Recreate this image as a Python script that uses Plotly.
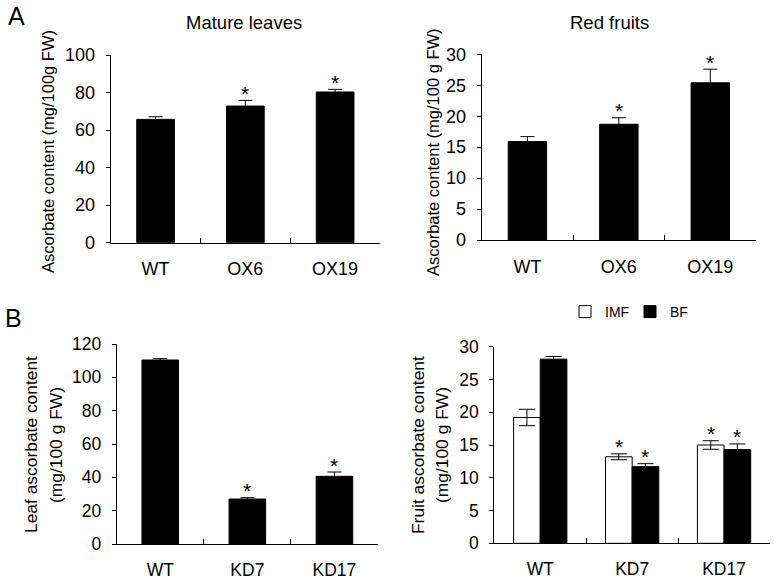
import plotly.graph_objects as go

# ---------------- data ----------------
lines_oe = ["WT", "OX6", "OX19"]
leaf_oe = [65.7, 72.8, 80.3]
leaf_oe_err = [1.4, 3.0, 1.4]
leaf_oe_sig = [False, True, True]

fruit_oe = [15.9, 18.7, 25.4]
fruit_oe_err = [0.8, 1.05, 2.2]
fruit_oe_sig = [False, True, True]

lines_kd = ["WT", "KD7", "KD17"]
leaf_kd = [110.4, 27.0, 40.6]
leaf_kd_err = [0.8, 0.8, 2.6]
leaf_kd_sig = [False, True, True]

fruit_imf = [19.2, 13.2, 15.0]
fruit_imf_err = [1.25, 0.45, 0.65]
fruit_imf_sig = [False, True, True]
fruit_bf = [28.1, 11.7, 14.3]
fruit_bf_err = [0.4, 0.45, 0.86]
fruit_bf_sig = [False, True, True]

FONT = "Liberation Sans, Arial, sans-serif"
W, H = 774, 581

fig = go.Figure()

def bar(x, y, err, xa, ya, color, width, offset=None, name=None, showlegend=False, ew=7):
    kw = dict(x=x, y=y, xaxis=xa, yaxis=ya, width=width,
              marker=dict(color=color, line=dict(color="black", width=1)),
              error_y=dict(type="data", array=err, visible=True, color="black",
                           thickness=1, width=ew),
              showlegend=showlegend, name=name)
    if offset is not None:
        kw["offset"] = offset
    fig.add_trace(go.Bar(**kw))

bar(lines_oe, leaf_oe, leaf_oe_err, "x", "y", "black", 0.42)
bar(lines_oe, fruit_oe, fruit_oe_err, "x2", "y2", "black", 0.42)
bar(lines_kd, leaf_kd, leaf_kd_err, "x3", "y3", "black", 0.42)
bar(lines_kd, fruit_imf, fruit_imf_err, "x4", "y4", "white", 0.29, offset=-0.29,
    name="IMF", showlegend=True, ew=8)
bar(lines_kd, fruit_bf, fruit_bf_err, "x4", "y4", "black", 0.29, offset=0.0,
    name="BF", showlegend=True, ew=8)

# significance asterisks
def stars(vals, errs, sig, xa, ya, shift=0.0):
    for i, (v, e, s) in enumerate(zip(vals, errs, sig)):
        if s:
            fig.add_annotation(x=i + shift, y=v + e, xref=xa, yref=ya, text="*",
                               showarrow=False, yanchor="middle", yshift=7,
                               font=dict(family=FONT, size=21, color="black"))

stars(leaf_oe, leaf_oe_err, leaf_oe_sig, "x", "y")
stars(fruit_oe, fruit_oe_err, fruit_oe_sig, "x2", "y2")
stars(leaf_kd, leaf_kd_err, leaf_kd_sig, "x3", "y3")
stars(fruit_imf, fruit_imf_err, fruit_imf_sig, "x4", "y4", shift=-0.145)
stars(fruit_bf, fruit_bf_err, fruit_bf_sig, "x4", "y4", shift=0.145)

# axes
def xaxis(domain, anchor, size):
    return dict(domain=domain, anchor=anchor, type="category", range=[-0.5, 2.5],
                showline=True, linecolor="black", linewidth=1, ticks="inside",
                tickson="boundaries", ticklen=5, tickcolor="black", showgrid=False,
                zeroline=False, ticklabelstandoff=10, automargin=False,
                tickfont=dict(family=FONT, size=size, color="black"))

def yaxis(domain, anchor, rng, dtick, size):
    return dict(domain=domain, anchor=anchor, range=rng, dtick=dtick,
                showline=True, linecolor="black", linewidth=1, ticks="outside",
                ticklen=4, tickcolor="black", showgrid=False, zeroline=False,
                ticklabelstandoff=7, automargin=False,
                tickfont=dict(family=FONT, size=size, color="black"))

fig.update_layout(
    width=W, height=H, margin=dict(l=0, r=0, t=0, b=0, pad=0), autosize=False,
    paper_bgcolor="white", plot_bgcolor="white", barmode="overlay",
    font=dict(family=FONT, color="black"),
    xaxis=xaxis([110.7 / W, 380 / W], "y", 18),
    yaxis=yaxis([1 - 242.7 / H, 1 - 55 / H], "x", [0, 100], 20, 18),
    xaxis2=xaxis([481.7 / W, 756 / W], "y2", 18),
    yaxis2=yaxis([1 - 240 / H, 1 - 54.3 / H], "x2", [0, 30], 5, 18),
    xaxis3=xaxis([116.7 / W, 378 / W], "y3", 17.5),
    yaxis3=yaxis([1 - 544 / H, 1 - 344 / H], "x3", [0, 120], 20, 17.5),
    xaxis4=xaxis([494.3 / W, 770 / W], "y4", 17.5),
    yaxis4=yaxis([1 - 543.3 / H, 1 - 346.7 / H], "x4", [0, 30], 5, 17.5),
    legend=dict(orientation="h", x=565 / W, y=1 - 312 / H, xanchor="left",
                yanchor="middle", font=dict(family=FONT, size=14, color="black"),
                itemwidth=30, entrywidth=20, tracegroupgap=0,
                bgcolor="rgba(0,0,0,0)"),
)

def text(x, y, s, size, angle=0):
    fig.add_annotation(x=x / W, y=1 - y / H, xref="paper", yref="paper", text=s,
                       showarrow=False, textangle=angle, xanchor="center",
                       yanchor="middle", font=dict(family=FONT, size=size, color="black"))

text(16.5, 16, "A", 25)
text(13, 318, "B", 25)
text(244, 23, "Mature leaves", 18.5)
text(609, 23, "Red fruits", 18.5)
text(48, 152, "Ascorbate content (mg/100g FW)", 16.5, -90)
text(433, 152, "Ascorbate content (mg/100 g FW)", 16.5, -90)
text(31, 445, "Leaf ascorbate content", 17.4, -90)
text(56, 445, "(mg/100 g FW)", 17.4, -90)
text(418, 445, "Fruit ascorbate content", 17.4, -90)
text(442, 445, "(mg/100 g FW)", 17.4, -90)

fig.write_html("out.html", config={"displayModeBar": False},
               post_script="document.body.style.margin='0';document.body.style.overflow='hidden';")
